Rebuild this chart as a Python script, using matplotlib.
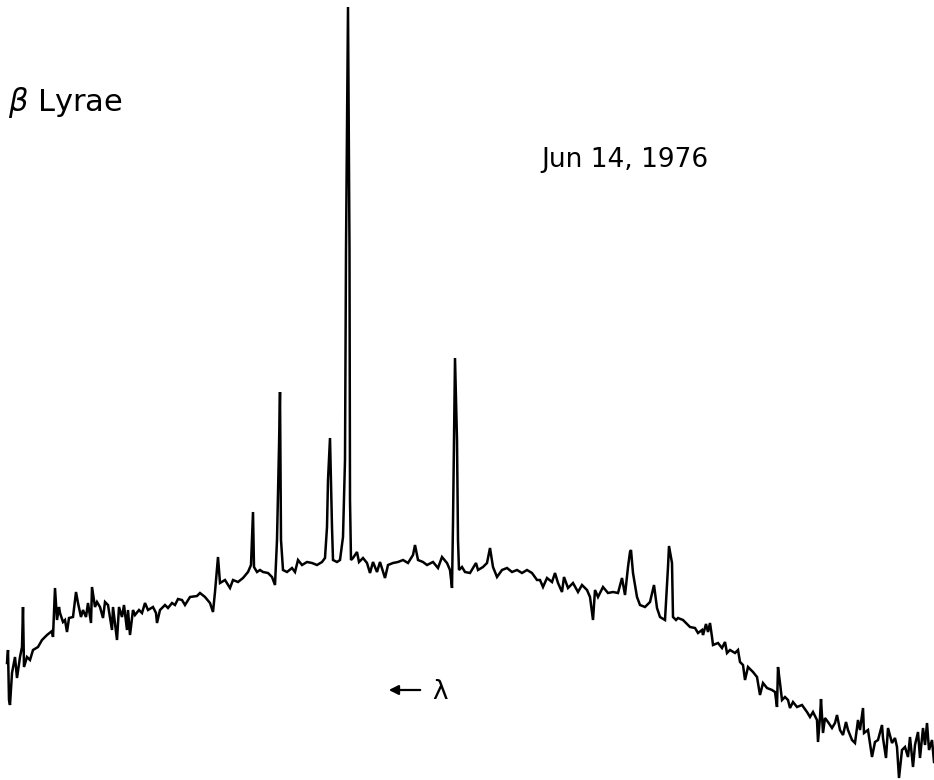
import matplotlib.pyplot as plt

# chart recorder trace of beta Lyrae
# channel = position along the chart, deflection = pen position (measured downward)
channel = [7, 8, 9, 10, 12, 15, 17, 20, 22, 23,
           24, 27, 30, 33, 38, 42, 47, 52, 53, 55,
           57, 59, 60, 63, 65, 67, 69, 73, 76, 78,
           81, 83, 86, 88, 91, 92, 95, 97, 100, 103,
           105, 108, 112, 113, 117, 119, 122, 124, 127, 128,
           130, 133, 135, 139, 142, 145, 148, 153, 156, 157,
           160, 165, 168, 172, 175, 178, 182, 185, 190, 197,
           200, 205, 210, 213, 215, 218, 220, 225, 230, 233,
           238, 243, 248, 251, 253, 254, 257, 260, 263, 268,
           272, 275, 277, 279, 280, 281, 283, 287, 292, 295,
           298, 302, 307, 312, 317, 322, 325, 327, 328, 330,
           332, 333, 337, 340, 343, 345, 346, 348, 349.5, 350,
           351, 353, 357, 359, 363, 367, 370, 373, 377, 380,
           385, 388, 393, 398, 403, 408, 413, 415, 418, 423,
           427, 433, 438, 442, 447, 450, 452, 453, 454, 455,
           457, 458, 459, 462, 465, 470, 473, 476, 478, 483,
           487, 490, 493, 497, 502, 507, 512, 517, 522, 527,
           532, 537, 540, 543, 547, 552, 555, 558, 562, 564,
           568, 573, 578, 582, 587, 590, 593, 595, 598, 603,
           608, 613, 618, 622, 625, 628, 630, 631, 633, 637,
           640, 645, 650, 654, 657, 660, 665, 668, 669, 672,
           673, 676, 678, 683, 690, 695, 698, 702, 703, 706,
           708, 710, 712, 713, 718, 722, 725, 727, 730, 735,
           738, 740, 743, 745, 748, 753, 757, 760, 763, 767,
           772, 775, 777, 778, 780, 782, 785, 788, 790, 793,
           797, 802, 807, 810, 813, 817, 818, 820, 821, 823,
           825, 828, 832, 835, 837, 840, 843, 846, 848, 852,
           855, 858, 860, 863, 864, 868, 872, 875, 878, 882,
           883, 886, 888, 892, 895, 897, 899, 902, 905, 908,
           910, 913, 915, 918, 920, 923, 925, 927, 929, 932, 934]
deflection = [663, 650, 700, 705, 673, 657, 678, 657, 647, 607,
              667, 657, 660, 650, 647, 640, 635, 631, 637, 588,
              620, 607, 613, 622, 620, 632, 618, 617, 592, 603,
              617, 610, 617, 603, 623, 587, 607, 602, 607, 618,
              602, 605, 630, 607, 640, 607, 617, 605, 630, 610,
              635, 610, 615, 610, 613, 603, 610, 607, 613, 623,
              610, 605, 608, 603, 605, 599, 600, 605, 597, 596,
              593, 597, 603, 612, 592, 557, 583, 580, 588, 580,
              582, 578, 572, 565, 512, 567, 572, 570, 572, 573,
              577, 585, 540, 447, 392, 540, 570, 572, 568, 572,
              560, 565, 562, 563, 565, 562, 558, 527, 480, 438,
              527, 560, 562, 560, 537, 460, 250, 7, 250, 500,
              560, 558, 552, 562, 558, 563, 573, 562, 572, 562,
              578, 565, 563, 562, 560, 563, 555, 545, 560, 562,
              565, 562, 568, 557, 563, 570, 588, 523, 440, 358,
              440, 540, 570, 567, 572, 573, 568, 563, 570, 567,
              563, 548, 567, 577, 570, 568, 572, 570, 573, 570,
              573, 580, 580, 587, 578, 582, 573, 583, 592, 577,
              588, 583, 592, 585, 590, 597, 620, 590, 597, 587,
              593, 592, 593, 578, 595, 567, 552, 550, 573, 597,
              605, 607, 602, 585, 608, 617, 620, 567, 546, 563,
              617, 620, 618, 620, 627, 628, 633, 630, 635, 624,
              632, 623, 637, 645, 643, 648, 642, 653, 650, 653,
              650, 662, 665, 680, 667, 672, 677, 695, 683, 688,
              690, 692, 707, 667, 683, 700, 697, 700, 708, 702,
              707, 705, 712, 717, 712, 720, 742, 717, 699, 733,
              718, 722, 728, 723, 715, 730, 735, 722, 730, 740,
              743, 720, 730, 708, 733, 730, 757, 742, 740, 725,
              738, 758, 728, 743, 738, 747, 778, 750, 747, 757,
              737, 767, 745, 732, 758, 728, 745, 723, 750, 740, 762]

fig = plt.figure(figsize=(9.34, 7.8), dpi=100)
ax = fig.add_axes([0, 0, 1, 1])

ax.plot(channel, deflection, color="black", linewidth=1.8, solid_joinstyle="miter")

ax.set_xlim(0, 934)
ax.set_ylim(780, 0)
ax.axis("off")

# labels
ax.text(8, 102, r"$\beta$ Lyrae", fontsize=22, va="center", ha="left")
ax.text(541, 160, "Jun 14, 1976", fontsize=19, va="center", ha="left")
ax.annotate("", xy=(386, 690), xytext=(423, 690),
            arrowprops=dict(arrowstyle="-|>", color="black", lw=1.6, mutation_scale=14))
ax.text(432, 692, "λ", fontsize=19, va="center", ha="left")

fig.savefig("out.png", dpi=100, facecolor="white")
